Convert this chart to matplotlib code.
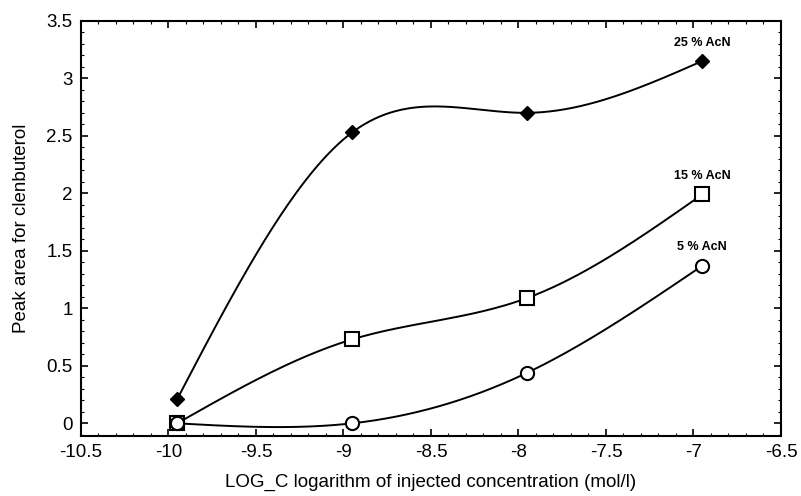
import numpy as np
import matplotlib.pyplot as plt
from matplotlib.ticker import MultipleLocator

plt.rcParams['font.family'] = ['Liberation Sans', 'DejaVu Sans']

# measured points (log concentration vs peak area)
log_c = [-9.95, -8.95, -7.95, -6.95]
acn_25 = [0.21, 2.53, 2.70, 3.15]
acn_15 = [0.0, 0.73, 1.09, 1.99]
acn_5 = [0.0, 0.0, 0.44, 1.37]
labels = ['25 % AcN', '15 % AcN', '5 % AcN']


def natural_spline(x, y, n=200):
    # natural cubic spline through the points, for the smooth curves
    x = np.asarray(x, float)
    y = np.asarray(y, float)
    k = len(x)
    h = np.diff(x)
    A = np.zeros((k, k))
    b = np.zeros(k)
    A[0, 0] = 1
    A[-1, -1] = 1
    for i in range(1, k - 1):
        A[i, i - 1] = h[i - 1]
        A[i, i] = 2 * (h[i - 1] + h[i])
        A[i, i + 1] = h[i]
        b[i] = 6 * ((y[i + 1] - y[i]) / h[i] - (y[i] - y[i - 1]) / h[i - 1])
    M = np.linalg.solve(A, b)
    xs = np.linspace(x[0], x[-1], n)
    idx = np.clip(np.searchsorted(x, xs) - 1, 0, k - 2)
    x0, x1 = x[idx], x[idx + 1]
    hh = x1 - x0
    t0 = x1 - xs
    t1 = xs - x0
    ys = (M[idx] * t0**3 + M[idx + 1] * t1**3) / (6 * hh) \
        + (y[idx] / hh - M[idx] * hh / 6) * t0 \
        + (y[idx + 1] / hh - M[idx + 1] * hh / 6) * t1
    return xs, ys


fig = plt.figure(figsize=(8.01, 4.96), dpi=100)
ax = fig.add_axes([0.101, 0.121, 0.874, 0.837])

series = [acn_25, acn_15, acn_5]
markers = [dict(marker='D', ms=6.8, mfc='black', mec='black'),
           dict(marker='s', ms=9.5, mfc='white', mec='black', mew=1.5),
           dict(marker='o', ms=9.5, mfc='white', mec='black', mew=1.5)]

for yv, mk, lab in zip(series, markers, labels):
    xs, ys = natural_spline(log_c, yv)
    ax.plot(xs, ys, color='black', lw=1.4, zorder=2)
    ax.plot(log_c, yv, ls='none', zorder=3, **mk)
    ax.annotate(lab, (log_c[-1], yv[-1]), xytext=(0, 9), textcoords='offset points',
                ha='center', va='bottom', fontsize=9, fontweight='bold')

ax.set_xlim(-10.5, -6.5)
ax.set_ylim(-0.11, 3.5)
ax.xaxis.set_major_locator(MultipleLocator(0.5))
ax.xaxis.set_minor_locator(MultipleLocator(0.1))
ax.yaxis.set_major_locator(MultipleLocator(0.5))
ax.yaxis.set_minor_locator(MultipleLocator(0.1))
ax.xaxis.set_major_formatter(plt.FuncFormatter(lambda v, p: f'{v:g}'))
ax.yaxis.set_major_formatter(plt.FuncFormatter(lambda v, p: f'{v:g}'))
ax.tick_params(which='both', direction='in', top=True, right=True, labelsize=13.5)
ax.tick_params(which='major', length=5, width=1.2)
ax.tick_params(which='minor', length=2.5, width=0.8)
ax.tick_params(axis='x', pad=6)
ax.tick_params(axis='y', pad=6)
for s in ax.spines.values():
    s.set_linewidth(1.5)

ax.set_xlabel('LOG_C logarithm of injected concentration (mol/l)', fontsize=13.5, labelpad=9)
ax.set_ylabel('Peak area for clenbuterol', fontsize=13.5, labelpad=12)

plt.savefig('out.png', dpi=100)
